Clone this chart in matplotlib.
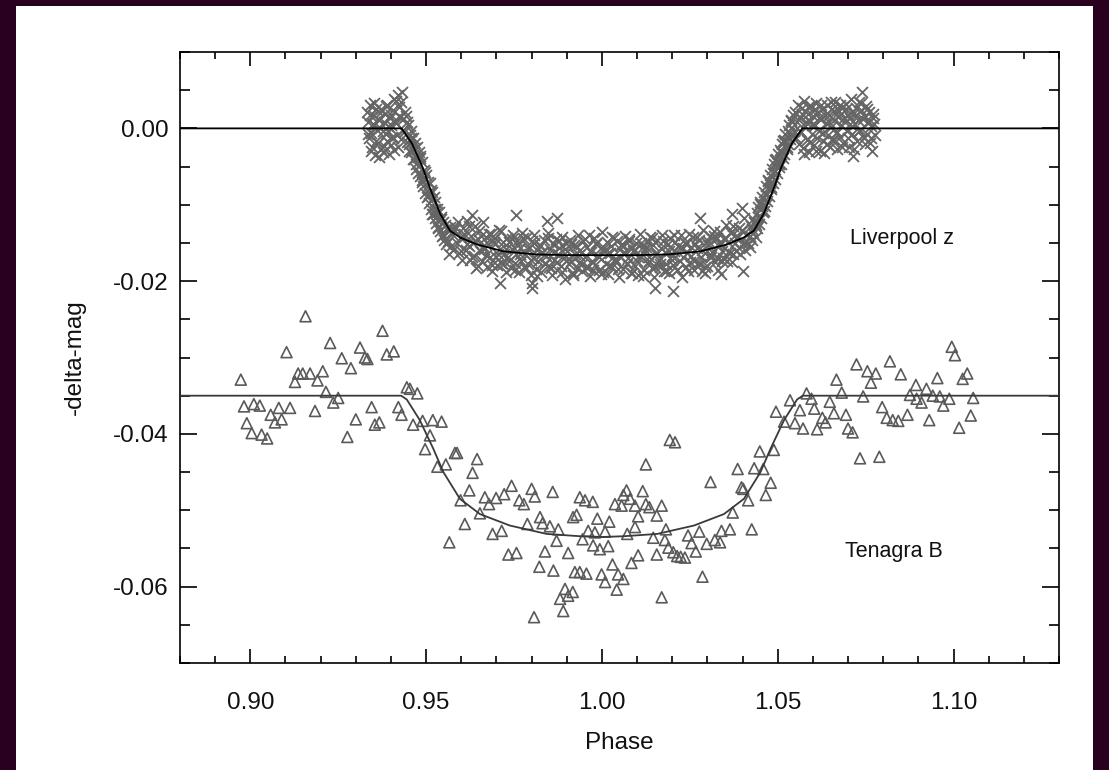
import matplotlib
matplotlib.use("Agg")
import matplotlib.pyplot as plt
from matplotlib.ticker import MultipleLocator, FormatStrFormatter
from matplotlib.patches import Rectangle

plt.rcParams['font.family'] = ['Liberation Sans', 'DejaVu Sans']
plt.rcParams['axes.unicode_minus'] = False

# ---------------- Liverpool z (crosses) ----------------
lz_phase_pre = [0.9332, 0.9335, 0.9337, 0.9341, 0.9343, 0.9346, 0.9349, 0.9351, 0.9355, 0.9357,
                0.9360, 0.9363, 0.9366, 0.9368, 0.9371, 0.9374, 0.9377, 0.9379, 0.9382, 0.9385,
                0.9388, 0.9390, 0.9393, 0.9396, 0.9399, 0.9401, 0.9404, 0.9407, 0.9410, 0.9412,
                0.9415, 0.9418, 0.9421, 0.9424, 0.9426, 0.9429, 0.9432, 0.9435, 0.9437, 0.9440,
                0.9334, 0.9339, 0.9344, 0.9348, 0.9353, 0.9358, 0.9362, 0.9367, 0.9372, 0.9376,
                0.9381, 0.9386, 0.9391, 0.9395, 0.9400, 0.9405, 0.9409, 0.9414, 0.9419, 0.9423,
                0.9428, 0.9433]
lz_mag_pre = [0.0021, 0.0009, -0.0013, 0.0030, -0.0006, -0.0024, 0.0017, 0.0004, -0.0035, 0.0026,
              -0.0002, -0.0019, 0.0011, 0.0001, -0.0027, 0.0023, -0.0031, 0.0008, 0.0019, -0.0008,
              -0.0016, 0.0031, -0.0003, 0.0014, -0.0022, 0.0005, -0.0011, 0.0024, -0.0028, 0.0009,
              0.0036, -0.0009, 0.0044, 0.0028, 0.0015, -0.0014, 0.0048, 0.0012, -0.0005, 0.0022,
              -0.0007, 0.0018, -0.0029, 0.0006, 0.0033, -0.0017, 0.0012, -0.0038, 0.0025, -0.0004,
              -0.0023, 0.0029, 0.0003, -0.0033, 0.0018, -0.0012, 0.0038, 0.0007, -0.0025, 0.0016,
              0.0034, -0.0002]

lz_phase_in = [0.9443, 0.9446, 0.9448, 0.9451, 0.9453, 0.9456, 0.9458, 0.9461, 0.9463, 0.9466,
               0.9469, 0.9471, 0.9474, 0.9476, 0.9479, 0.9482, 0.9484, 0.9487, 0.9489, 0.9492,
               0.9495, 0.9497, 0.9500, 0.9503, 0.9505, 0.9508, 0.9510, 0.9513, 0.9516, 0.9518,
               0.9521, 0.9524, 0.9526, 0.9529, 0.9532, 0.9534, 0.9537, 0.9540, 0.9543, 0.9545,
               0.9548, 0.9551, 0.9553, 0.9556, 0.9558, 0.9561, 0.9564, 0.9566, 0.9569, 0.9572,
               0.9574, 0.9577, 0.9580,
               0.9447, 0.9452, 0.9457, 0.9462, 0.9467, 0.9472, 0.9477, 0.9483, 0.9488, 0.9493,
               0.9498, 0.9504, 0.9509, 0.9514, 0.9519, 0.9525, 0.9530, 0.9535, 0.9541, 0.9547]
lz_mag_in = [0.0016, -0.0018, 0.0005, -0.0021, -0.0009, -0.0031, -0.0004, -0.0028, -0.0012, -0.0040,
             -0.0019, -0.0047, -0.0024, -0.0058, -0.0031, -0.0062, -0.0039, -0.0070, -0.0044, -0.0076,
             -0.0055, -0.0084, -0.0061, -0.0090, -0.0070, -0.0098, -0.0072, -0.0106, -0.0083, -0.0112,
             -0.0090, -0.0118, -0.0097, -0.0124, -0.0105, -0.0130, -0.0110, -0.0135, -0.0116, -0.0141,
             -0.0122, -0.0146, -0.0126, -0.0152, -0.0131, -0.0148, -0.0135, -0.0165, -0.0129, -0.0154,
             -0.0138, -0.0159, -0.0133,
             0.0009, -0.0030, -0.0012, -0.0040, -0.0026, -0.0053, -0.0037, -0.0036, -0.0068, -0.0064,
             -0.0057, -0.0088, -0.0086, -0.0081, -0.0112, -0.0106, -0.0109, -0.0129, -0.0119, -0.0140]

lz_phase_bot = [0.9583, 0.9587, 0.9591, 0.9594, 0.9598, 0.9602, 0.9606, 0.9609, 0.9613, 0.9617,
                0.9621, 0.9624, 0.9628, 0.9632, 0.9636, 0.9639, 0.9643, 0.9647, 0.9651, 0.9654,
                0.9658, 0.9662, 0.9666, 0.9669, 0.9673, 0.9677, 0.9681, 0.9684, 0.9688, 0.9692,
                0.9696, 0.9699, 0.9703, 0.9707, 0.9711, 0.9714, 0.9718, 0.9722, 0.9726, 0.9729,
                0.9733, 0.9737, 0.9741, 0.9744, 0.9748, 0.9752, 0.9756, 0.9759, 0.9763, 0.9767,
                0.9771, 0.9774, 0.9778, 0.9782, 0.9786, 0.9789, 0.9793, 0.9797, 0.9801, 0.9804,
                0.9808, 0.9812, 0.9816, 0.9819, 0.9823, 0.9827, 0.9831, 0.9834, 0.9838, 0.9842,
                0.9846, 0.9849, 0.9853, 0.9857, 0.9861, 0.9864, 0.9868, 0.9872, 0.9876, 0.9879,
                0.9883, 0.9887, 0.9891, 0.9894, 0.9898, 0.9902, 0.9906, 0.9909, 0.9913, 0.9917,
                0.9921, 0.9924, 0.9928, 0.9932, 0.9936, 0.9939, 0.9943, 0.9947, 0.9951, 0.9954,
                0.9958, 0.9962, 0.9966, 0.9969, 0.9973, 0.9977, 0.9981, 0.9984, 0.9988, 0.9992,
                0.9996, 0.9999, 1.0003, 1.0007, 1.0011, 1.0014, 1.0018, 1.0022, 1.0026, 1.0029,
                1.0033, 1.0037, 1.0041, 1.0044, 1.0048, 1.0052, 1.0056, 1.0059, 1.0063, 1.0067,
                1.0071, 1.0074, 1.0078, 1.0082, 1.0086, 1.0089, 1.0093, 1.0097, 1.0101, 1.0104,
                1.0108, 1.0112, 1.0116, 1.0119, 1.0123, 1.0127, 1.0131, 1.0134, 1.0138, 1.0142,
                1.0146, 1.0149, 1.0153, 1.0157, 1.0161, 1.0164, 1.0168, 1.0172, 1.0176, 1.0179,
                1.0183, 1.0187, 1.0191, 1.0194, 1.0198, 1.0202, 1.0206, 1.0209, 1.0213, 1.0217,
                1.0221, 1.0224, 1.0228, 1.0232, 1.0236, 1.0239, 1.0243, 1.0247, 1.0251, 1.0254,
                1.0258, 1.0262, 1.0266, 1.0269, 1.0273, 1.0277, 1.0281, 1.0284, 1.0288, 1.0292,
                1.0296, 1.0299, 1.0303, 1.0307, 1.0311, 1.0314, 1.0318, 1.0322, 1.0326, 1.0329,
                1.0333, 1.0337, 1.0341, 1.0344, 1.0348, 1.0352, 1.0356, 1.0359, 1.0363, 1.0367,
                1.0371, 1.0374, 1.0378, 1.0382, 1.0386, 1.0389, 1.0393, 1.0397, 1.0401, 1.0404,
                1.0408, 1.0412, 1.0416,
                0.9630, 0.9757, 0.9843, 0.9873, 0.9800, 0.9801, 0.9710, 1.0202, 1.0150, 1.0370,
                1.0279, 1.0397, 1.0293, 1.0340, 1.0402]
lz_mag_bot = [-0.0129, -0.0150, -0.0122, -0.0163, -0.0142, -0.0172, -0.0130, -0.0142, -0.0159, -0.0121,
              -0.0154, -0.0172, -0.0141, -0.0150, -0.0167, -0.0128, -0.0183, -0.0145, -0.0135, -0.0160,
              -0.0173, -0.0123, -0.0158, -0.0142, -0.0181, -0.0152, -0.0169, -0.0138, -0.0187, -0.0149,
              -0.0143, -0.0168, -0.0179, -0.0133, -0.0158, -0.0176, -0.0149, -0.0164, -0.0188, -0.0143,
              -0.0168, -0.0149, -0.0183, -0.0158, -0.0139, -0.0176, -0.0164, -0.0148, -0.0188, -0.0156,
              -0.0173, -0.0137, -0.0181, -0.0164, -0.0142, -0.0177, -0.0155, -0.0192, -0.0147, -0.0170,
              -0.0140, -0.0184, -0.0159, -0.0174, -0.0153, -0.0188, -0.0162, -0.0146, -0.0176, -0.0167,
              -0.0137, -0.0182, -0.0158, -0.0192, -0.0152, -0.0172, -0.0145, -0.0186, -0.0165, -0.0156,
              -0.0180, -0.0142, -0.0170, -0.0197, -0.0150, -0.0161, -0.0178, -0.0146, -0.0174, -0.0190,
              -0.0153, -0.0164, -0.0183, -0.0139, -0.0176, -0.0159, -0.0187, -0.0148, -0.0169, -0.0181,
              -0.0155, -0.0140, -0.0193, -0.0162, -0.0173, -0.0144, -0.0179, -0.0151, -0.0167, -0.0185,
              -0.0157, -0.0136, -0.0188, -0.0160, -0.0177, -0.0149, -0.0191, -0.0163, -0.0154, -0.0182,
              -0.0143, -0.0171, -0.0175, -0.0147, -0.0194, -0.0158, -0.0152, -0.0184, -0.0165, -0.0141,
              -0.0178, -0.0170, -0.0145, -0.0189, -0.0156, -0.0161, -0.0180, -0.0150, -0.0174, -0.0192,
              -0.0138, -0.0168, -0.0155, -0.0186, -0.0159, -0.0148, -0.0176, -0.0169, -0.0142, -0.0183,
              -0.0153, -0.0195, -0.0164, -0.0146, -0.0172, -0.0181, -0.0157, -0.0139, -0.0187, -0.0162,
              -0.0177, -0.0151, -0.0190, -0.0144, -0.0167, -0.0179, -0.0160, -0.0149, -0.0185, -0.0154,
              -0.0173, -0.0139, -0.0195, -0.0157, -0.0150, -0.0182, -0.0163, -0.0138, -0.0175, -0.0167,
              -0.0142, -0.0186, -0.0152, -0.0157, -0.0176, -0.0146, -0.0169, -0.0187, -0.0133, -0.0163,
              -0.0149, -0.0180, -0.0153, -0.0141, -0.0169, -0.0162, -0.0134, -0.0175, -0.0144, -0.0186,
              -0.0154, -0.0136, -0.0161, -0.0170, -0.0145, -0.0127, -0.0174, -0.0149, -0.0163, -0.0136,
              -0.0175, -0.0128, -0.0150, -0.0161, -0.0142, -0.0130, -0.0165, -0.0133, -0.0152, -0.0118,
              -0.0159, -0.0139, -0.0150,
              -0.0114, -0.0114, -0.0121, -0.0117, -0.0202, -0.0209, -0.0202, -0.0213, -0.0209, -0.0112,
              -0.0117, -0.0104, -0.0189, -0.0191, -0.0187]

lz_phase_bot2 = [0.9600, 0.9608, 0.9615, 0.9623, 0.9631, 0.9640, 0.9648, 0.9655, 0.9663, 0.9671,
                 0.9680, 0.9688, 0.9695, 0.9704, 0.9712, 0.9720, 0.9727, 0.9735, 0.9744, 0.9752,
                 0.9760, 0.9767, 0.9775, 0.9784, 0.9791, 0.9799, 0.9807, 0.9815, 0.9823, 0.9831,
                 0.9839, 0.9847, 0.9855, 0.9863, 0.9871, 0.9879, 0.9887, 0.9895, 0.9903, 0.9911,
                 0.9919, 0.9927, 0.9935, 0.9943, 0.9951, 0.9959, 0.9967, 0.9975, 0.9983, 0.9991,
                 0.9998, 1.0006, 1.0014, 1.0022, 1.0030, 1.0038, 1.0046, 1.0054, 1.0062, 1.0070,
                 1.0078, 1.0086, 1.0094, 1.0102, 1.0110, 1.0118, 1.0126, 1.0134, 1.0142, 1.0150,
                 1.0158, 1.0166, 1.0174, 1.0182, 1.0190, 1.0198, 1.0206, 1.0214, 1.0222, 1.0230,
                 1.0238, 1.0246, 1.0254, 1.0262, 1.0270, 1.0278, 1.0286, 1.0294, 1.0302, 1.0310,
                 1.0318, 1.0326, 1.0334, 1.0342, 1.0350, 1.0358, 1.0366, 1.0374, 1.0382, 1.0390,
                 1.0398, 1.0406]
lz_mag_bot2 = [-0.0160, -0.0138, -0.0152, -0.0128, -0.0169, -0.0147, -0.0180, -0.0141, -0.0154, -0.0166,
               -0.0138, -0.0179, -0.0152, -0.0165, -0.0135, -0.0177, -0.0158, -0.0173, -0.0145, -0.0186,
               -0.0153, -0.0164, -0.0144, -0.0183, -0.0158, -0.0172, -0.0150, -0.0193, -0.0154, -0.0163,
               -0.0178, -0.0143, -0.0183, -0.0162, -0.0175, -0.0148, -0.0188, -0.0158, -0.0171, -0.0152,
               -0.0192, -0.0154, -0.0166, -0.0177, -0.0145, -0.0181, -0.0160, -0.0186, -0.0150, -0.0169,
               -0.0191, -0.0157, -0.0165, -0.0180, -0.0142, -0.0173, -0.0184, -0.0153, -0.0162, -0.0176,
               -0.0147, -0.0189, -0.0159, -0.0168, -0.0150, -0.0193, -0.0155, -0.0174, -0.0144, -0.0182,
               -0.0163, -0.0178, -0.0148, -0.0187, -0.0161, -0.0172, -0.0140, -0.0185, -0.0157, -0.0169,
               -0.0150, -0.0187, -0.0155, -0.0174, -0.0142, -0.0177, -0.0159, -0.0181, -0.0148, -0.0166,
               -0.0141, -0.0170, -0.0150, -0.0173, -0.0144, -0.0162, -0.0137, -0.0164, -0.0144, -0.0157,
               -0.0134, -0.0150]

lz_phase_eg = [1.0420, 1.0423, 1.0426, 1.0429, 1.0431, 1.0434, 1.0437, 1.0440, 1.0442, 1.0445,
               1.0448, 1.0451, 1.0453, 1.0456, 1.0459, 1.0462, 1.0464, 1.0467, 1.0470, 1.0473,
               1.0475, 1.0478, 1.0481, 1.0484, 1.0486, 1.0489, 1.0492, 1.0495, 1.0497, 1.0500,
               1.0503, 1.0506, 1.0508, 1.0511, 1.0514, 1.0517, 1.0519, 1.0522, 1.0525, 1.0528,
               1.0530, 1.0533, 1.0536, 1.0539, 1.0541, 1.0544, 1.0547,
               1.0422, 1.0428, 1.0433, 1.0438, 1.0444, 1.0449, 1.0455, 1.0460, 1.0466, 1.0471,
               1.0477, 1.0482, 1.0487, 1.0493, 1.0499, 1.0504, 1.0510, 1.0515, 1.0521, 1.0526,
               1.0532, 1.0538]
lz_mag_eg = [-0.0155, -0.0128, -0.0146, -0.0119, -0.0137, -0.0124, -0.0142, -0.0111, -0.0130, -0.0103,
             -0.0125, -0.0097, -0.0117, -0.0090, -0.0110, -0.0083, -0.0102, -0.0076, -0.0095, -0.0068,
             -0.0088, -0.0061, -0.0080, -0.0053, -0.0072, -0.0047, -0.0066, -0.0040, -0.0059, -0.0034,
             -0.0051, -0.0028, -0.0046, -0.0021, -0.0039, -0.0015, -0.0033, -0.0008, -0.0027, -0.0003,
             -0.0020, 0.0004, -0.0014, 0.0011, -0.0009, 0.0017, -0.0004,
             -0.0141, -0.0132, -0.0122, -0.0127, -0.0116, -0.0099, -0.0101, -0.0108, -0.0087, -0.0069,
             -0.0072, -0.0077, -0.0058, -0.0041, -0.0044, -0.0047, -0.0031, -0.0017, -0.0017, -0.0024,
             -0.0006, 0.0010]

lz_phase_post = [1.0550, 1.0552, 1.0555, 1.0558, 1.0561, 1.0564, 1.0567, 1.0570, 1.0573, 1.0576,
                 1.0579, 1.0582, 1.0585, 1.0588, 1.0591, 1.0594, 1.0597, 1.0600, 1.0603, 1.0606,
                 1.0609, 1.0612, 1.0615, 1.0618, 1.0621, 1.0624, 1.0627, 1.0630, 1.0633, 1.0636,
                 1.0639, 1.0642, 1.0645, 1.0648, 1.0651, 1.0654, 1.0657, 1.0660, 1.0663, 1.0666,
                 1.0669, 1.0672, 1.0675, 1.0678, 1.0681, 1.0684, 1.0687, 1.0690, 1.0693, 1.0696,
                 1.0699, 1.0702, 1.0705, 1.0708, 1.0711, 1.0714, 1.0717, 1.0720, 1.0723, 1.0726,
                 1.0729, 1.0732, 1.0735, 1.0738, 1.0741, 1.0744, 1.0747, 1.0750, 1.0753, 1.0756,
                 1.0759, 1.0762, 1.0765, 1.0768, 1.0771, 1.0774, 1.0777,
                 1.0563, 1.0568, 1.0574, 1.0580, 1.0586, 1.0592, 1.0598, 1.0604, 1.0610, 1.0616,
                 1.0622, 1.0628, 1.0634, 1.0640, 1.0646, 1.0652, 1.0658, 1.0664, 1.0670, 1.0676,
                 1.0682, 1.0688, 1.0694, 1.0700, 1.0706, 1.0712, 1.0718, 1.0724, 1.0730, 1.0736,
                 1.0742, 1.0748, 1.0754, 1.0760, 1.0766, 1.0772]
lz_mag_post = [0.0022, -0.0012, 0.0008, 0.0031, -0.0020, 0.0014, -0.0005, 0.0027, -0.0026, 0.0036,
               0.0003, -0.0015, 0.0019, -0.0031, 0.0010, 0.0029, -0.0008, 0.0016, -0.0022, 0.0005,
               0.0033, -0.0013, 0.0021, -0.0004, -0.0029, 0.0012, 0.0025, -0.0017, -0.0032, 0.0007,
               0.0030, -0.0009, 0.0018, -0.0024, 0.0002, 0.0026, -0.0014, 0.0011, 0.0034, -0.0006,
               -0.0027, 0.0015, 0.0023, -0.0011, 0.0004, 0.0028, -0.0019, 0.0009, 0.0032, -0.0003,
               0.0017, -0.0025, 0.0013, 0.0038, -0.0008, -0.0036, 0.0020, 0.0006, 0.0027, -0.0016,
               0.0011, 0.0035, -0.0002, 0.0024, 0.0047, -0.0012, 0.0016, 0.0029, -0.0007, 0.0009,
               0.0021, -0.0019, 0.0003, -0.0030, 0.0014, 0.0006, -0.0009,
               -0.0003, 0.0019, -0.0033, 0.0009, 0.0028, -0.0018, 0.0004, 0.0024, -0.0029, 0.0013,
               0.0031, -0.0006, 0.0017, -0.0021, 0.0008, 0.0035, -0.0016, 0.0021, -0.0005, 0.0030,
               -0.0024, 0.0014, 0.0026, -0.0012, 0.0006, 0.0022, -0.0027, 0.0017, -0.0003, 0.0033,
               0.0012, -0.0021, 0.0025, 0.0008, -0.0013, 0.0019]

# Liverpool model curve
lz_model_phase = [0.880, 0.9430, 0.9460, 0.9490, 0.9510, 0.9540, 0.9568, 0.9597, 0.9645, 0.9720,
                  0.9810, 0.9900, 1.0000, 1.0100, 1.0190, 1.0280, 1.0355, 1.0403, 1.0432, 1.0460,
                  1.0490, 1.0510, 1.0540, 1.0570, 1.130]
lz_model_mag = [0.0, 0.0, -0.0020, -0.0051, -0.0077, -0.0112, -0.0134, -0.0143, -0.0152, -0.0161,
                -0.0165, -0.0166, -0.0166, -0.0166, -0.0165, -0.0161, -0.0152, -0.0143, -0.0134, -0.0112,
                -0.0077, -0.0051, -0.0020, 0.0, 0.0]

# ---------------- Tenagra B (triangles) ----------------
tb_phase = [0.9157, 0.9376, 0.9227, 0.9103, 0.9312, 0.9326, 0.9333, 0.9388, 0.9408, 0.9260,
            0.9286, 0.9206, 0.9136, 0.9149, 0.9170, 0.9127, 0.9191, 0.8973, 0.9215, 0.9250,
            0.9236, 0.9445, 0.9454, 0.9475, 0.8982, 0.9010, 0.9027, 0.9081, 0.9113, 0.9058,
            0.9089, 0.9070, 0.9184, 0.9345, 0.9421, 0.9430, 0.9300, 0.8990, 0.9004, 0.9032,
            0.9048, 0.9276, 0.9354, 0.9367, 0.9463, 0.9490, 0.9497,
            0.9519, 0.9544, 0.9511, 0.9582, 0.9588, 0.9645, 0.9532, 0.9556, 0.9632, 0.9623,
            0.9598, 0.9667, 0.9679, 0.9699, 0.9722, 0.9743, 0.9800, 0.9809, 0.9765, 0.9778,
            0.9860, 0.9653, 0.9610, 0.9566, 0.9689, 0.9715, 0.9788, 0.9824, 0.9831, 0.9852,
            0.9876, 0.9937, 0.9952, 0.9918, 0.9928, 0.9961, 0.9945, 0.9871, 0.9734, 0.9757,
            0.9838, 0.9904, 0.9822, 0.9862, 0.9923, 0.9937, 0.9956, 0.9895, 0.9917, 0.9881,
            0.9904, 0.9890, 0.9807,
            1.0193, 1.0208, 1.0125, 1.0449, 1.0489, 1.0386, 1.0433, 1.0459, 1.0309, 1.0480,
            1.0397, 1.0402, 1.0466, 1.0416, 1.0372, 1.0426, 1.0070, 1.0061, 1.0116, 1.0080,
            1.0037, 1.0056, 1.0094, 1.0125, 1.0135, 1.0170, 1.0156, 1.0103, 0.9974, 0.9987,
            1.0021, 1.0009, 0.9980, 1.0094, 1.0072, 1.0182, 1.0146, 1.0179, 1.0245, 1.0277,
            1.0255, 1.0340, 1.0364, 1.0298, 1.0321, 1.0336, 0.9975, 0.9994, 1.0018, 1.0103,
            1.0156, 1.0189, 1.0203, 1.0214, 1.0224, 1.0236, 1.0267, 1.0030, 1.0084, 0.9999,
            1.0046, 1.0061, 1.0009, 1.0042, 1.0286, 1.0170,
            1.0995, 1.1004, 1.0724, 1.0819, 1.0755, 1.0779, 1.0765, 1.0850, 1.0667, 1.0682,
            1.0893, 1.0923, 1.0954, 1.1026, 1.1039, 1.0582, 1.0535, 1.0596, 1.0648, 1.0743,
            1.0876, 1.0895, 1.0909, 1.0941, 1.0961, 1.0988, 1.1056, 1.0971, 1.0495, 1.0563,
            1.0604, 1.0660, 1.0694, 1.0627, 1.0797, 1.0810, 1.0827, 1.0843, 1.0869, 1.0931,
            1.1049, 1.0518, 1.0549, 1.0572, 1.0612, 1.0636, 1.0700, 1.0713, 1.1016, 1.0734,
            1.0789]
tb_mag = [-0.0246, -0.0265, -0.0281, -0.0293, -0.0287, -0.0300, -0.0302, -0.0296, -0.0292, -0.0301,
          -0.0314, -0.0318, -0.0321, -0.0321, -0.0321, -0.0332, -0.0330, -0.0329, -0.0345, -0.0353,
          -0.0359, -0.0339, -0.0341, -0.0347, -0.0364, -0.0361, -0.0363, -0.0366, -0.0366, -0.0375,
          -0.0381, -0.0385, -0.0370, -0.0365, -0.0365, -0.0375, -0.0381, -0.0386, -0.0399, -0.0401,
          -0.0406, -0.0404, -0.0388, -0.0385, -0.0388, -0.0383, -0.0420,
          -0.0382, -0.0384, -0.0402, -0.0425, -0.0425, -0.0433, -0.0443, -0.0440, -0.0451, -0.0474,
          -0.0487, -0.0483, -0.0492, -0.0484, -0.0479, -0.0468, -0.0472, -0.0482, -0.0487, -0.0492,
          -0.0476, -0.0504, -0.0518, -0.0542, -0.0531, -0.0527, -0.0518, -0.0509, -0.0517, -0.0521,
          -0.0525, -0.0483, -0.0487, -0.0509, -0.0506, -0.0527, -0.0538, -0.0540, -0.0558, -0.0556,
          -0.0554, -0.0556, -0.0574, -0.0579, -0.0581, -0.0581, -0.0583, -0.0603, -0.0607, -0.0616,
          -0.0612, -0.0632, -0.0640,
          -0.0408, -0.0411, -0.0440, -0.0423, -0.0421, -0.0446, -0.0445, -0.0446, -0.0463, -0.0464,
          -0.0470, -0.0472, -0.0480, -0.0487, -0.0503, -0.0525, -0.0474, -0.0480, -0.0475, -0.0485,
          -0.0492, -0.0494, -0.0494, -0.0492, -0.0496, -0.0494, -0.0507, -0.0508, -0.0489, -0.0511,
          -0.0515, -0.0528, -0.0529, -0.0522, -0.0531, -0.0525, -0.0536, -0.0539, -0.0533, -0.0528,
          -0.0543, -0.0527, -0.0525, -0.0544, -0.0539, -0.0542, -0.0546, -0.0551, -0.0547, -0.0559,
          -0.0558, -0.0549, -0.0555, -0.0560, -0.0561, -0.0562, -0.0554, -0.0571, -0.0569, -0.0584,
          -0.0584, -0.0590, -0.0594, -0.0604, -0.0587, -0.0614,
          -0.0286, -0.0297, -0.0309, -0.0305, -0.0318, -0.0321, -0.0333, -0.0322, -0.0329, -0.0346,
          -0.0336, -0.0341, -0.0327, -0.0328, -0.0321, -0.0347, -0.0356, -0.0354, -0.0358, -0.0351,
          -0.0349, -0.0354, -0.0359, -0.0350, -0.0351, -0.0354, -0.0353, -0.0363, -0.0371, -0.0369,
          -0.0367, -0.0373, -0.0375, -0.0379, -0.0365, -0.0379, -0.0382, -0.0383, -0.0375, -0.0382,
          -0.0376, -0.0384, -0.0386, -0.0393, -0.0394, -0.0385, -0.0393, -0.0398, -0.0392, -0.0432,
          -0.0430]

# Tenagra model curve
tb_model_phase = [0.880, 0.9429, 0.9445, 0.9482, 0.9520, 0.9549, 0.9596, 0.9653, 0.9738, 0.9843,
                  0.9937, 1.0000, 1.0063, 1.0157, 1.0262, 1.0347, 1.0404, 1.0451, 1.0480, 1.0518,
                  1.0555, 1.0571, 1.130]
tb_model_mag = [-0.0350, -0.0350, -0.0355, -0.0382, -0.0419, -0.0450, -0.0485, -0.0505, -0.0520, -0.0531,
                -0.0534, -0.0535, -0.0534, -0.0531, -0.0520, -0.0505, -0.0485, -0.0450, -0.0419, -0.0382,
                -0.0355, -0.0350, -0.0350]

x_ticks = [0.90, 0.95, 1.00, 1.05, 1.10]
y_ticks = [0.00, -0.02, -0.04, -0.06]
label_lz = "Liverpool z"
label_tb = "Tenagra B"

# ---------------- Figure ----------------
W, H = 1109, 770
fig = plt.figure(figsize=(W / 100, H / 100), dpi=100, facecolor='#2a0020')
fig.patches.append(Rectangle((16 / W, 0), (1093 - 16) / W, (H - 6) / H,
                             transform=fig.transFigure, facecolor='white',
                             edgecolor='none', zorder=-10))

ax = fig.add_axes([180 / W, 1 - 663 / H, (1059 - 180) / W, (663 - 52) / H])
ax.set_facecolor('white')

ax.plot(lz_model_phase, lz_model_mag, color='black', lw=1.3, zorder=3)
ax.plot(tb_model_phase, tb_model_mag, color='#3a3a3a', lw=1.3, zorder=3)

lz_p = lz_phase_pre + lz_phase_in + lz_phase_bot + lz_phase_bot2 + lz_phase_eg + lz_phase_post
lz_m = lz_mag_pre + lz_mag_in + lz_mag_bot + lz_mag_bot2 + lz_mag_eg + lz_mag_post
ax.scatter(lz_p, lz_m, marker='x', s=62, color='#656565', linewidths=1.3, zorder=2)
ax.scatter(tb_phase, tb_mag, marker='^', s=62, facecolors='none', edgecolors='#5a5a5a',
           linewidths=1.2, zorder=2)

ax.text(1.0705, -0.0151, label_lz, fontsize=15.5, ha='left', va='baseline', color='#111111')
ax.text(1.0691, -0.0561, label_tb, fontsize=15.5, ha='left', va='baseline', color='#111111')

ax.set_xlim(0.88, 1.13)
ax.set_ylim(-0.07, 0.01)
ax.set_xticks(x_ticks)
ax.set_yticks(y_ticks)
ax.xaxis.set_minor_locator(MultipleLocator(0.01))
ax.yaxis.set_minor_locator(MultipleLocator(0.005))
ax.xaxis.set_major_formatter(FormatStrFormatter('%.2f'))
ax.yaxis.set_major_formatter(FormatStrFormatter('%.2f'))

ax.tick_params(axis='both', which='both', direction='in', top=True, right=True,
               width=1.2, color='black', labelsize=17.5, labelcolor='#111111')
ax.tick_params(axis='x', which='major', length=10, pad=21)
ax.tick_params(axis='x', which='minor', length=5)
ax.tick_params(axis='y', which='major', length=12.2, pad=8)
ax.tick_params(axis='y', which='minor', length=7.2)
for sp in ax.spines.values():
    sp.set_linewidth(1.2)

ax.set_xlabel('Phase', fontsize=17.5, labelpad=13, color='#111111')
ax.set_ylabel('-delta-mag', fontsize=17.5, labelpad=20, color='#111111')

fig.savefig('out.png', dpi=100, facecolor=fig.get_facecolor())
